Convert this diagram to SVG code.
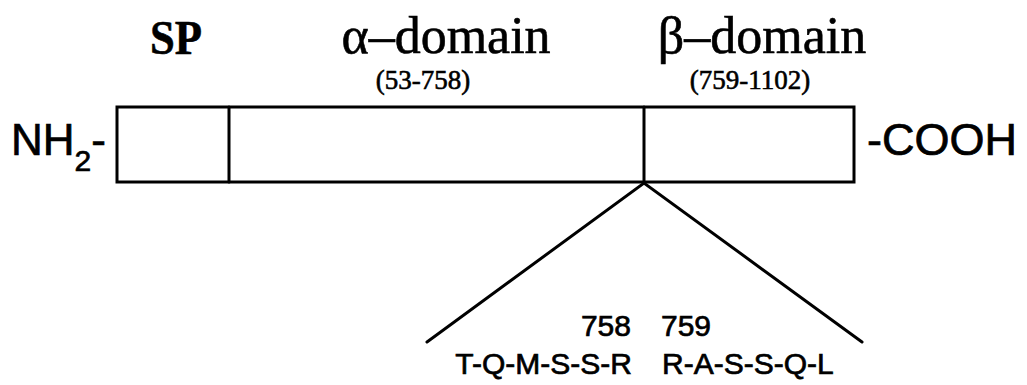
<svg xmlns="http://www.w3.org/2000/svg" width="1027" height="385" viewBox="0 0 1027 385">
  <style>
    .serif { font-family: "Liberation Serif", "Times New Roman", serif; fill: #000; stroke: #000; stroke-width: 0.6; }
    .sans { font-family: "Liberation Sans", Arial, sans-serif; fill: #000; stroke: #000; stroke-width: 0.7; }
    .box { fill: #fff; stroke: #000; stroke-width: 3; }
    .edge { fill: none; stroke: #000; stroke-width: 3; stroke-linecap: round; }
  </style>
  <rect width="1027" height="385" fill="#fff"/>

  <!-- protein bar with domain boundaries -->
  <g id="protein">
    <rect class="box" x="117" y="107" width="737" height="75"/>
  </g>
  <g id="sp-domain">
    <line class="edge" x1="229" y1="107" x2="229" y2="182"/>
    <text class="serif" x="176" y="54" font-size="48" font-weight="bold" text-anchor="middle" textLength="52" lengthAdjust="spacingAndGlyphs">SP</text>
  </g>
  <g id="alpha-domain">
    <text class="serif" x="446" y="53" font-size="52" text-anchor="middle">α–domain</text>
    <text class="serif" x="423" y="89" font-size="27" text-anchor="middle">(53-758)</text>
  </g>
  <g id="beta-domain">
    <line class="edge" x1="644" y1="107" x2="644" y2="182"/>
    <text class="serif" x="762" y="53" font-size="52" text-anchor="middle">β–domain</text>
    <text class="serif" x="750" y="89" font-size="27" text-anchor="middle">(759-1102)</text>
  </g>

  <!-- termini -->
  <g id="n-terminus">
    <text class="sans" x="11" y="155" font-size="44">NH<tspan font-size="30" dy="16">2</tspan><tspan dy="-16">-</tspan></text>
  </g>
  <g id="c-terminus">
    <text class="sans" x="867" y="155" font-size="45">-COOH</text>
  </g>

  <!-- cleavage site detail -->
  <g id="connectors">
    <polyline class="edge" points="427,342 644,183 862,342"/>
  </g>
  <g id="cleavage-site">
    <text class="sans" x="631" y="336" font-size="30" text-anchor="end">758</text>
    <text class="sans" x="661" y="336" font-size="30">759</text>
    <text class="sans" x="632" y="374" font-size="30" text-anchor="end">T-Q-M-S-S-R</text>
    <text class="sans" x="662" y="374" font-size="30">R-A-S-S-Q-L</text>
  </g>
</svg>
